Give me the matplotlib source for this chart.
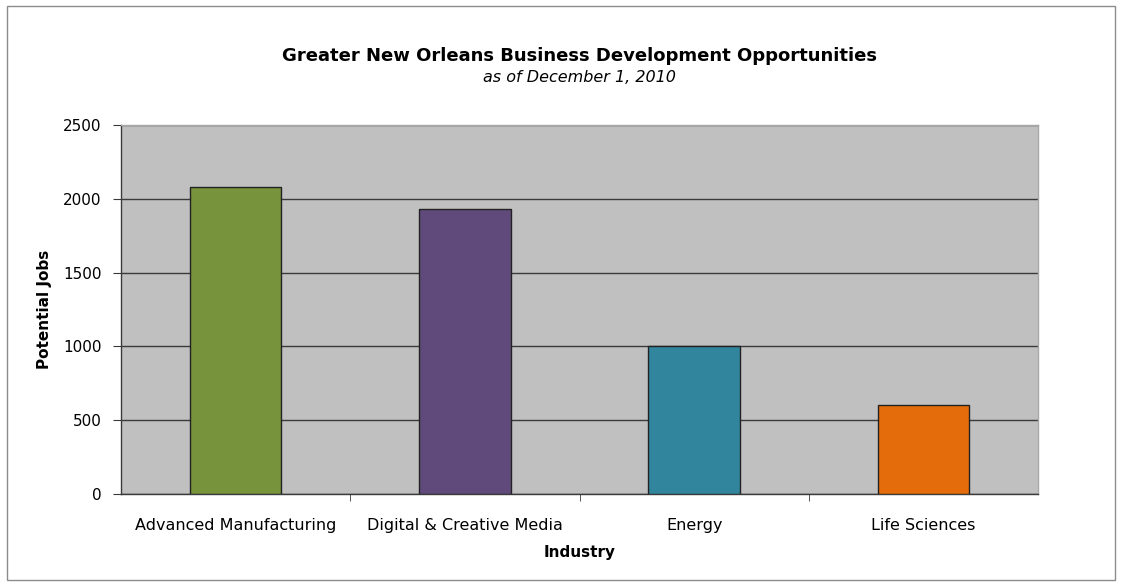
import matplotlib.pyplot as plt
from matplotlib.patches import Rectangle

# data
industries = ['Advanced Manufacturing', 'Digital & Creative Media', 'Energy', 'Life Sciences']
potential_jobs = [2080, 1930, 1000, 600]
bar_colors = ['#77933C', '#604A7B', '#31859C', '#E46C0A']

plt.rcParams['font.family'] = ['DejaVu Sans']

fig = plt.figure(figsize=(11.22, 5.86), dpi=100)
fig.patch.set_facecolor('white')

# light outer frame round the whole chart
fig.patches.append(Rectangle((7 / 1122, 6 / 586), 1108 / 1122, 574 / 586,
                             transform=fig.transFigure, fill=False,
                             edgecolor='#8c8c8c', linewidth=1))

ax = fig.add_axes([121 / 1122, 92 / 586, 917 / 1122, 369 / 586])
ax.set_facecolor('#C0C0C0')

x = range(len(industries))
ax.bar(x, potential_jobs, width=0.4, color=bar_colors, edgecolor='#222222',
       linewidth=1, zorder=3)

ax.set_xlim(-0.5, len(industries) - 0.5)
ax.set_ylim(0, 2500)
ax.set_yticks([0, 500, 1000, 1500, 2000, 2500])
ax.grid(axis='y', color='#3a3a3a', linewidth=1, zorder=1)

ax.set_xticks(list(x))
ax.set_xticklabels(industries, fontsize=11.5)
ax.set_xticks([0.5, 1.5, 2.5], minor=True)
ax.tick_params(axis='x', which='major', length=0, pad=17)
ax.tick_params(axis='x', which='minor', length=5, direction='out', color='#3a3a3a')
ax.tick_params(axis='y', length=6, direction='out', color='#3a3a3a', labelsize=11, pad=8)

for side in ['left', 'bottom']:
    ax.spines[side].set_color('#3a3a3a')
    ax.spines[side].set_linewidth(1)
for side in ['top', 'right']:
    ax.spines[side].set_color('#a8a8a8')
    ax.spines[side].set_linewidth(1)

ax.set_ylabel('Potential Jobs', fontsize=11, fontweight='bold', labelpad=8)
ax.set_xlabel('Industry', fontsize=11, fontweight='bold', labelpad=9)

# titles are centred over the plot area, not the figure
cx = 579.5 / 1122
fig.text(cx, 1 - 56 / 586, 'Greater New Orleans Business Development Opportunities',
         ha='center', va='center', fontsize=13, fontweight='bold')
fig.text(cx, 1 - 78 / 586, 'as of December 1, 2010',
         ha='center', va='center', fontsize=11.5, style='italic')

plt.savefig('out.png', dpi=100)
